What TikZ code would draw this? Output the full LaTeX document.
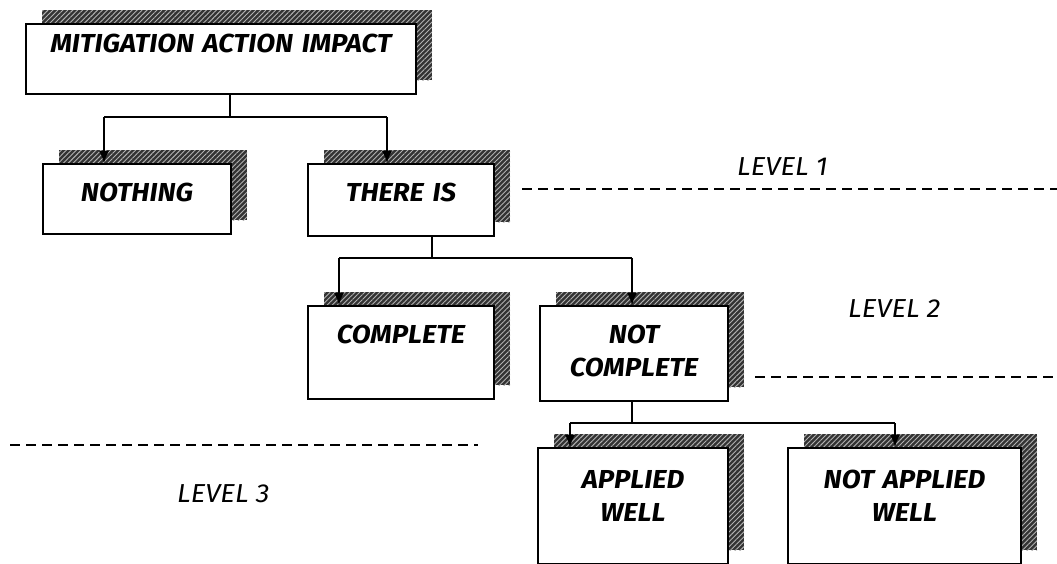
\documentclass[tikz,border=0pt]{standalone}
\usepackage{fontspec}
\setmainfont{Fira Sans}[FakeStretch=1.06]
\usetikzlibrary{arrows.meta, shadows, patterns.meta}

\tikzset{
  box/.style={draw, line width=2pt, fill=white, anchor=north west, inner sep=0pt,
    align=center, font=\fontsize{26}{33}\selectfont\bfseries\itshape, text height=37pt,
    general shadow={shadow xshift=16pt, shadow yshift=14pt, fill=black!80},
    general shadow={shadow xshift=16pt, shadow yshift=14pt,
      pattern={Lines[angle=45, distance=3.5pt, line width=0.9pt]}, pattern color=white!70!black}},
  link/.style={line width=1.7pt},
  tip/.style={arrows={-Latex[length=12pt, width=10pt]}},
  levelline/.style={line width=1.6pt, dash pattern=on 10pt off 6pt},
  levellabel/.style={font=\fontsize{26}{30}\selectfont\itshape, anchor=base west, inner sep=0pt}
}

\begin{document}
\begin{tikzpicture}[x=1pt, y=-1pt]
	\useasboundingbox (0,0) rectangle (1057,563);
	% boxes
	\node [box, text width=390pt, text height=28pt, text depth=42pt] (impact) at (25,23) {MITIGATION ACTION IMPACT};
	\node [box, text width=188pt, text depth=33pt] (nothing) at (42,163) {NOTHING};
	\node [box, text width=186pt, text depth=35pt] (thereis) at (307,163) {THERE IS};
	\node [box, text width=186pt, text depth=56pt] (complete) at (307,305) {COMPLETE};
	\node [box, text width=188pt, text depth=58pt] (notcomplete) at (539,305) {NOT\\COMPLETE};
	\node [box, text width=190pt, text height=40pt, text depth=76pt] (applied) at (537,447) {APPLIED\\WELL};
	\node [box, text width=233pt, text height=40pt, text depth=76pt] (notapplied) at (787,447) {NOT APPLIED\\WELL};
	% branch points
	\coordinate (j1) at (230,117);
	\coordinate (a1) at (104,117);
	\coordinate (a2) at (387,117);
	\coordinate (j2) at (432,258);
	\coordinate (a3) at (339,258);
	\coordinate (a4) at (632,258);
	\coordinate (j3) at (632,423);
	\coordinate (a5) at (570,423);
	\coordinate (a6) at (895,423);
	% connectors
	\draw [link] (j1 |- impact.south) -- (j1);
	\draw [link] (a1) -- (a2);
	\draw [link, tip] (a1) -- (a1 |- nothing.north);
	\draw [link, tip] (a2) -- (a2 |- thereis.north);
	\draw [link] (j2 |- thereis.south) -- (j2);
	\draw [link] (a3) -- (a4);
	\draw [link, tip] (a3) -- (a3 |- complete.north);
	\draw [link, tip] (a4) -- (a4 |- notcomplete.north);
	\draw [link] (j3 |- notcomplete.south) -- (j3);
	\draw [link] (a5) -- (a6);
	\draw [link, tip] (a5) -- (a5 |- applied.north);
	\draw [link, tip] (a6) -- (a6 |- notapplied.north);
	% levels
	\draw [levelline] (522,189) -- (1064,189);
	\draw [levelline] (755,377) -- (1064,377);
	\draw [levelline] (10,445) -- (478,445);
	\node [levellabel] (level1) at (737,175) {LEVEL 1};
	\node [levellabel] (level2) at (848,317) {LEVEL 2};
	\node [levellabel] (level3) at (177,502) {LEVEL 3};
\end{tikzpicture}
\end{document}
